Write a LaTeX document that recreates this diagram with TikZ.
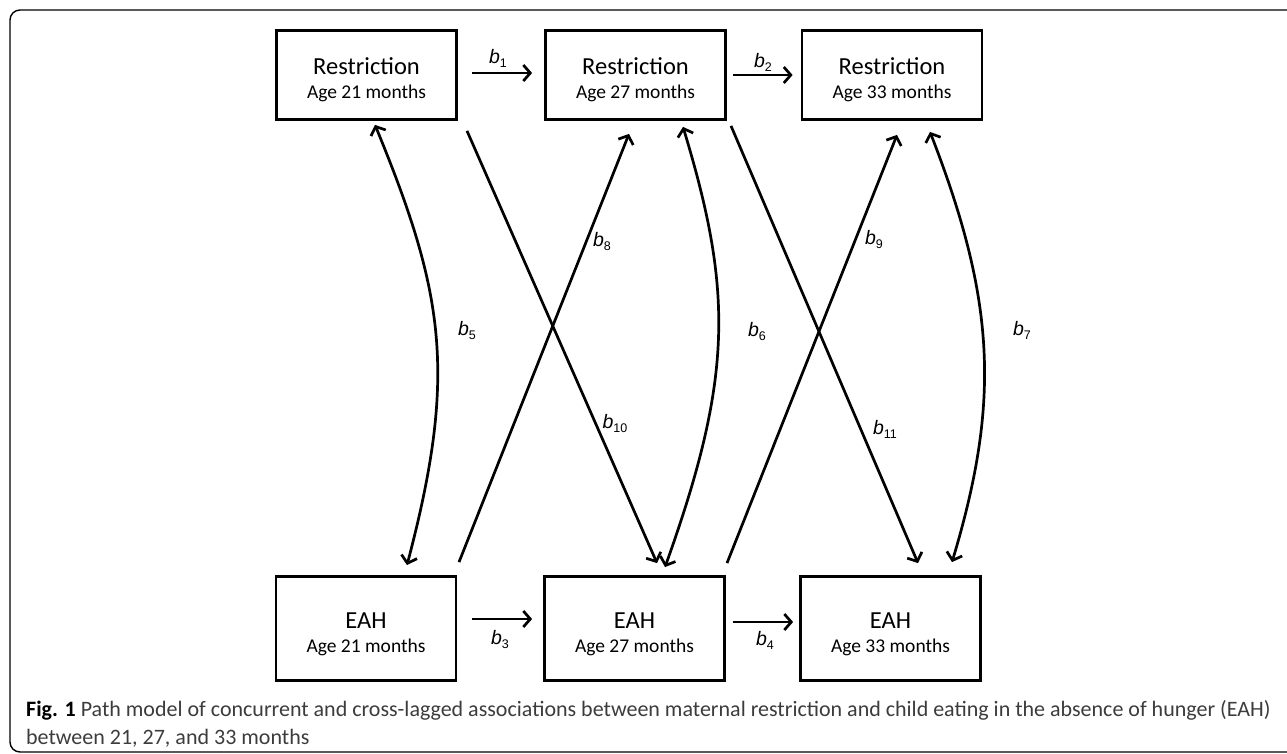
\documentclass[tikz,border=0pt]{standalone}
\usepackage{fontspec}
\setmainfont{Carlito}
\newfontfamily\labfont{Liberation Sans}
\usetikzlibrary{arrows.meta,calc}
\definecolor{capgray}{RGB}{60,60,60}
\newcommand{\bl}[1]{{\labfont\fontsize{19.5}{19.5}\selectfont\itshape b\/\raisebox{-4pt}{\upshape\fontsize{12.5}{12.5}\selectfont #1}}}
\begin{document}
\begin{tikzpicture}[x=1pt,y=-1pt,
  box/.style={draw=black, line width=2.8pt, minimum width=180pt, inner sep=0pt},
  toprow/.style={box, minimum height=89pt},
  botrow/.style={box, minimum height=104pt},
  boxtext/.style={align=center, font=\fontsize{19.5}{24}\selectfont, inner sep=0pt},
  conn/.style={line width=2.7pt, -{Straight Barb[length=7pt,width=16pt]}},
  both/.style={line width=2.7pt, {Straight Barb[length=7pt,width=16pt]}-{Straight Barb[length=7pt,width=16pt]}},
  coef/.style={inner sep=0pt},
  capline/.style={anchor=base west, inner sep=0pt, font=\fontsize{22}{28}\selectfont, text=capgray}
]
\clip (0,0) rectangle (1287,754);
\useasboundingbox (0,0) rectangle (1287,754);
\draw[line width=1.4pt, rounded corners=10pt] (10,10) rectangle (1310,752);

% boxes
\node[toprow] (r21) at (366.5,75) {};
\node[toprow] (r27) at (635.5,75) {};
\node[toprow] (r33) at (892,75) {};
\node[botrow] (e21) at (366,628.5) {};
\node[botrow] (e27) at (634.5,628.5) {};
\node[botrow] (e33) at (890.5,628.5) {};

\node[boxtext] (r21t) at ($(r21.center)+(0,5)$) {{\fontsize{24.5}{24}\selectfont Restriction}\\Age 21 months};
\node[boxtext] (r27t) at ($(r27.center)+(0,5)$) {{\fontsize{24.5}{24}\selectfont Restriction}\\Age 27 months};
\node[boxtext] (r33t) at ($(r33.center)+(0,5)$) {{\fontsize{24.5}{24}\selectfont Restriction}\\Age 33 months};
\node[boxtext] (e21t) at ($(e21.center)+(0,5.5)$) {{\fontsize{24.5}{24}\selectfont EAH}\\Age 21 months};
\node[boxtext] (e27t) at ($(e27.center)+(0,5.5)$) {{\fontsize{24.5}{24}\selectfont EAH}\\Age 27 months};
\node[boxtext] (e33t) at ($(e33.center)+(0,5.5)$) {{\fontsize{24.5}{24}\selectfont EAH}\\Age 33 months};

% autoregressive paths
\draw[conn] ($(r21.east)+(14,-2)$) -- ($(r27.west)+(-12,-2)$);
\draw[conn] ($(r27.east)+(6,0)$) -- ($(r33.west)+(-8,0)$);
\draw[conn] ($(e21.east)+(15,-9.5)$) -- ($(e27.west)+(-11,-9.5)$);
\draw[conn] ($(e27.east)+(7,-6.5)$) -- ($(e33.west)+(-6,-6.5)$);

% cross-lagged paths
\draw[conn] ($(r21.south)+(100.5,10)$) -- ($(e27.north)+(22.5,-12)$);
\draw[conn] ($(e21.north)+(93,-13)$) -- ($(r27.south)+(-6.5,13)$);
\draw[conn] ($(r27.south)+(95.5,5)$) -- ($(e33.north)+(27.5,-12)$);
\draw[conn] ($(e27.north)+(92.5,-12)$) -- ($(r33.south)+(5,14)$);

% concurrent covariances
\draw[both] ($(r21.south)+(8.5,4)$) .. controls +(70,170) and +(50,-190) .. ($(e21.north)+(41,-10)$);
\draw[both] ($(r27.south)+(47.5,6)$) .. controls +(50,165) and +(68,-190) .. ($(e27.north)+(30.5,-8)$);
\draw[both] ($(r33.south)+(38,11)$) .. controls +(66,170) and +(48,-160) .. ($(e33.north)+(61.5,-13)$);

% coefficient labels
\node[coef] (b1) at (498,58) {\bl{1}};
\node[coef] (b2) at (763,62) {\bl{2}};
\node[coef] (b3) at (500,639) {\bl{3}};
\node[coef] (b4) at (765,640) {\bl{4}};
\node[coef] (b5) at (467,330) {\bl{5}};
\node[coef] (b6) at (757,331) {\bl{6}};
\node[coef] (b7) at (1022,330) {\bl{7}};
\node[coef] (b8) at (602,241) {\bl{8}};
\node[coef] (b9) at (874,239) {\bl{9}};
\node[coef] (b10) at (615,423) {\bl{10}};
\node[coef] (b11) at (885,429) {\bl{11}};

% caption
\node[capline] (cap1) at (26,716) {{\color{black}\bfseries Fig. 1} Path model of concurrent and cross-lagged associations between maternal restriction and child eating in the absence of hunger (EAH)};
\node[capline] (cap2) at (26,744) {between 21, 27, and 33 months};
\end{tikzpicture}
\end{document}
